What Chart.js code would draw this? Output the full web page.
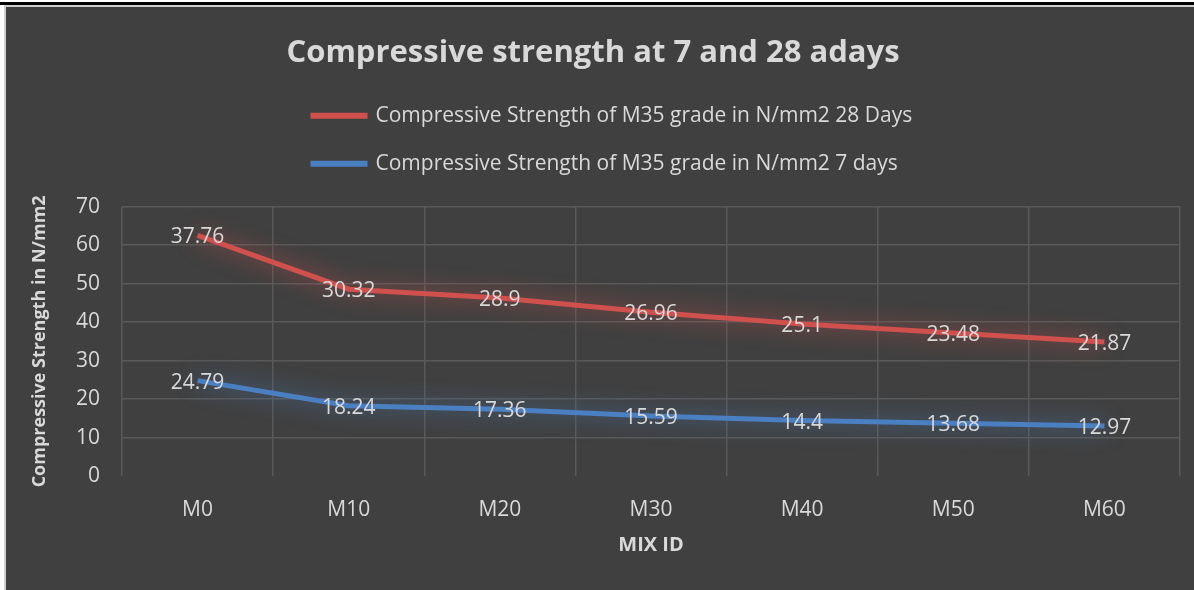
<!DOCTYPE html>
<html>
<head>
<meta charset="utf-8">
<script src="https://cdn.jsdelivr.net/npm/chart.js@4.4.4/dist/chart.umd.min.js"></script>
<style>
  html, body { margin: 0; padding: 0; background: #fff; }
  body { width: 1194px; height: 590px; position: relative; overflow: hidden; }
  #topline { position: absolute; left: 0; top: 2px; width: 1194px; height: 3px; background: #000; }
  #frame {
    position: absolute; left: 4px; top: 5px; right: 0; bottom: 0;
    border-left: 2px solid #cfcfcf; border-top: 2px solid #cfcfcf;
    background: #404040;
  }
  #wrap { position: absolute; left: 0; top: 0; width: 1188px; height: 583px; }
</style>
</head>
<body>
<div id="topline"></div>
<div id="frame">
  <div id="wrap"><canvas id="chart"></canvas></div>
</div>
<script>
// ─── Data ────────────────────────────────────────────────────────────────────
const mixIds    = ['M0', 'M10', 'M20', 'M30', 'M40', 'M50', 'M60'];
const days7     = [24.79, 18.24, 17.36, 15.59, 14.4, 13.68, 12.97];
const days28    = [37.76, 30.32, 28.9, 26.96, 25.1, 23.48, 21.87];
const yTicks    = [0, 10, 20, 30, 40, 50, 60, 70];

const TEXT = '#d9d9d9';
const GRID = '#595959';
const RED  = '#d0504d';
const BLUE = '#4a7fc1';

Chart.defaults.font.family = "'Open Sans', sans-serif";
Chart.defaults.color = TEXT;
Chart.defaults.animation = false;

// soft glow under each line
const glowPlugin = {
  id: 'glow',
  beforeDatasetDraw(chart, args) {
    const ds = chart.data.datasets[args.index];
    chart.ctx.save();
    chart.ctx.shadowColor = ds.glowColor;
    chart.ctx.shadowBlur = 22;
  },
  afterDatasetDraw(chart) {
    chart.ctx.restore();
  },
};

// value labels centred on each point (own value, not the stacked total)
const valueLabels = {
  id: 'valueLabels',
  afterDatasetsDraw(chart) {
    const ctx = chart.ctx;
    ctx.save();
    ctx.font = "21px 'Open Sans', sans-serif";
    ctx.fillStyle = TEXT;
    ctx.textAlign = 'center';
    ctx.textBaseline = 'middle';
    chart.data.datasets.forEach((ds, i) => {
      chart.getDatasetMeta(i).data.forEach((pt, j) => {
        ctx.fillText(String(ds.data[j]), pt.x, pt.y + 2);
      });
    });
    ctx.restore();
  },
};

// legend rows start at the same x, as in the source sheet
const legendShift = {
  id: 'legendShift',
  afterLayout(chart) {
    chart.legend.left = 307 - chart.options.plugins.legend.labels.padding;
  },
};

new Chart(document.getElementById('chart'), {
  type: 'line',
  data: {
    labels: mixIds,
    datasets: [
      {
        label: 'Compressive Strength of M35 grade in N/mm2 7 days',
        data: days7,
        borderColor: BLUE,
        backgroundColor: BLUE,
        glowColor: 'rgba(74,127,193,0.9)',
        borderWidth: 5,
        pointRadius: 0,
        tension: 0,
        fill: false,
      },
      {
        label: 'Compressive Strength of M35 grade in N/mm2 28 Days',
        data: days28,
        borderColor: RED,
        backgroundColor: RED,
        glowColor: 'rgba(208,80,77,0.9)',
        borderWidth: 5,
        pointRadius: 0,
        tension: 0,
        fill: false,
      },
    ],
  },
  options: {
    responsive: true,
    maintainAspectRatio: false,
    layout: { padding: { left: 0, right: 14, top: 0, bottom: 0 } },
    plugins: {
      title: {
        display: true,
        text: 'Compressive strength at 7 and 28 adays',
        color: TEXT,
        font: { size: 31, weight: 'bold' },
        padding: { top: 28, bottom: 6 },
      },
      legend: {
        position: 'top',
        align: 'start',
        labels: {
          color: TEXT,
          font: { size: 21 },
          boxWidth: 52,
          boxHeight: 1,
          padding: 27,
          sort: (a, b) => b.datasetIndex - a.datasetIndex,
        },
      },
      tooltip: { enabled: false },
    },
    scales: {
      x: {
        offset: true,
        grid: { offset: true, color: GRID, lineWidth: 1.5, drawTicks: false },
        border: { display: false },
        ticks: { color: TEXT, font: { size: 21 }, padding: 21 },
        title: {
          display: true,
          text: 'MIX ID',
          color: TEXT,
          font: { size: 20, weight: 'bold' },
          padding: { top: 0, bottom: 33 },
        },
        afterFit: s => { s.height = 114; },
      },
      // empty top axis: only keeps the gap between legend and plot
      xGap: {
        type: 'category',
        position: 'top',
        grid: { display: false },
        border: { display: false },
        ticks: { display: false },
        afterFit: s => { s.height = 22.5; },
      },
      y: {
        stacked: true,
        min: 0,
        max: 70,
        afterBuildTicks: s => { s.ticks = yTicks.map(v => ({ value: v })); },
        grid: {
          color: c => (c.tick && c.tick.value === 0 ? 'rgba(0,0,0,0)' : GRID),
          lineWidth: 1.5,
          drawTicks: false,
        },
        border: { display: false },
        ticks: { color: TEXT, font: { size: 21 }, padding: 22 },
        title: {
          display: true,
          text: 'Compressive Strength in N/mm2',
          color: TEXT,
          font: { size: 18, weight: 'bold' },
          padding: { top: 23, bottom: 0 },
        },
        afterFit: s => { s.width = 116; },
      },
    },
  },
  plugins: [glowPlugin, valueLabels, legendShift],
});
</script>
</body>
</html>
